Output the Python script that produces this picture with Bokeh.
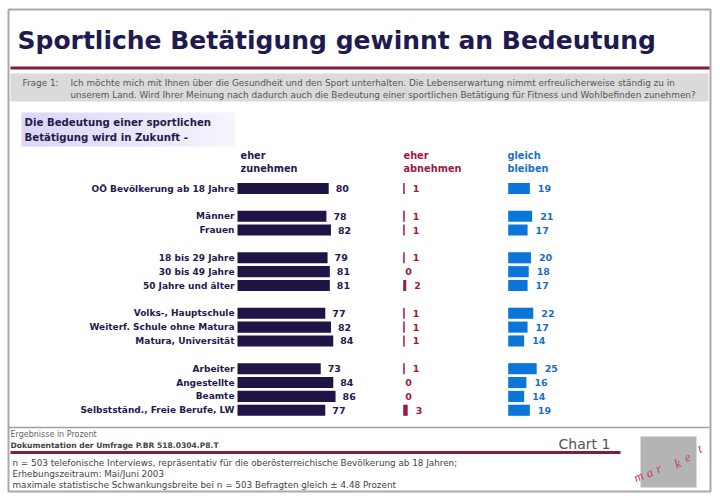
from bokeh.plotting import figure
from bokeh.models import Range1d, ColumnDataSource
from bokeh.core.properties import value
from bokeh.embed import file_html
from bokeh.resources import INLINE

# ---------------- data ----------------
categories = ["OÖ Bevölkerung ab 18 Jahre", "Männer", "Frauen",
              "18 bis 29 Jahre", "30 bis 49 Jahre", "50 Jahre und älter",
              "Volks-, Hauptschule", "Weiterf. Schule ohne Matura", "Matura, Universität",
              "Arbeiter", "Angestellte", "Beamte", "Selbstständ., Freie Berufe, LW"]
groups = [0, 1, 1, 2, 2, 2, 3, 3, 3, 4, 4, 4, 4]
zunehmen = [80, 78, 82, 79, 81, 81, 77, 82, 84, 73, 84, 86, 77]
abnehmen = [1, 1, 1, 1, 0, 2, 1, 1, 1, 1, 0, 0, 3]
gleich = [19, 21, 17, 20, 18, 17, 22, 17, 14, 25, 16, 14, 19]

title = "Sportliche Betätigung gewinnt an Bedeutung"
question_label = "Frage 1:"
question_lines = ["Ich möchte mich mit Ihnen über die Gesundheit und den Sport unterhalten.  Die Lebenserwartung nimmt erfreulicherweise ständig zu in",
                  "unserem Land. Wird Ihrer Meinung nach dadurch auch die Bedeutung einer sportlichen Betätigung für Fitness und Wohlbefinden zunehmen?"]
subtitle_lines = ["Die Bedeutung einer sportlichen", "Betätigung wird in Zukunft -"]
header_zun = ["eher", "zunehmen"]
header_abn = ["eher", "abnehmen"]
header_gle = ["gleich", "bleiben"]
footer_top = "Ergebnisse in Prozent"
footer_doc = "Dokumentation der Umfrage P.BR 518.0304.P8.T"
chart_label = "Chart 1"
footnotes = ["n = 503 telefonische Interviews, repräsentativ für die oberösterreichische Bevölkerung ab 18 Jahren;",
             "Erhebungszeitraum: Mai/Juni 2003",
             "maximale statistische Schwankungsbreite bei n = 503 Befragten gleich ± 4.48 Prozent"]
logo_letters = ["m", "a", "r", "k", "e", "t"]

# ---------------- style ----------------
NAVY = "#1f1a4f"
BAR_NAVY = "#201446"
MAROON = "#9e1a42"
LINE_MAROON = "#8a1a3c"
BLUE_BAR = "#0a76da"
BLUE_TXT = "#1a6fc4"
GRAY_TXT = "#555555"
FONT = value("DejaVu Sans")

W, H = 720, 498
p = figure(width=W, height=H, x_range=Range1d(0, W), y_range=Range1d(H, 0),
           output_backend="svg", toolbar_location=None, min_border=0,
           x_axis_location=None, y_axis_location=None)
p.grid.visible = False
p.outline_line_color = None
p.background_fill_color = "white"
p.border_fill_color = "white"

# scales: value units -> pixels
def rng(origin, scale, size):
    return Range1d(start=-origin / scale, end=(size - origin) / scale)

p.extra_x_ranges = {
    "zun": rng(237.0, 1.14, W),
    "abn": rng(402.7, 1.5, W),
    "gle": rng(507.7, 1.14, W),
}
row_px = 13.86
row0 = 188.0
p.extra_y_ranges = {"rows": Range1d(start=(H - row0) / row_px, end=-row0 / row_px)}

slots = [i + g for i, g in enumerate(groups)]
src = ColumnDataSource(dict(
    slot=slots, cat=categories,
    zun=zunehmen, abn=abnehmen, gle=gleich,
    zun_t=[str(v) for v in zunehmen],
    abn_t=[str(v) for v in abnehmen],
    gle_t=[str(v) for v in gleich],
    abn_off=[8 if v > 0 else 2 for v in abnehmen],
))

# ---------------- frame decoration ----------------
p.quad(left=8, right=710, top=9, bottom=491, fill_color=None, line_color="#a9a9a9", line_width=2)
p.segment(x0=8, x1=709, y0=427, y1=427, line_color="#a0a0a0", line_width=1.5)
# title
p.text(x=17, y=40, text=[title], text_font=FONT, text_font_style="bold",
       text_font_size="25px", text_color=NAVY, text_baseline="middle")
p.segment(x0=10, x1=709, y0=67.5, y1=67.5, line_color=LINE_MAROON, line_width=3)
# question box
p.quad(left=10, right=708, top=73, bottom=101, fill_color="#dadada", line_color=None)
p.text(x=22, y=82, text=[question_label], text_font=FONT, text_font_size="8.9px",
       text_color=GRAY_TXT, text_baseline="middle")
p.text(x=[70, 70], y=[82, 94], text=question_lines, text_font=FONT, text_font_size="8.9px",
       text_color=GRAY_TXT, text_baseline="middle")

# subtitle box with light gradient
n_strips = 24
x_left, x_right = 21, 234
sw = (x_right - x_left) / n_strips
cols = []
for k in range(n_strips):
    t = k / (n_strips - 1)
    r = int(220 + (246 - 220) * t); g = int(214 + (244 - 214) * t); b = int(247 + (253 - 247) * t)
    cols.append("#%02x%02x%02x" % (r, g, b))
p.quad(left=[x_left + k * sw for k in range(n_strips)], right=[x_left + (k + 1) * sw + 0.5 for k in range(n_strips)],
       top=112, bottom=146, fill_color=cols, line_color=None)
p.text(x=[24, 24], y=[122, 137], text=subtitle_lines, text_font=FONT, text_font_style="bold",
       text_font_size="10.2px", text_color=NAVY, text_baseline="middle")

# column headers
p.text(x=[240, 240], y=[155, 168], text=header_zun, text_font=FONT, text_font_style="bold",
       text_font_size="9.8px", text_color=NAVY, text_baseline="middle")
p.text(x=[403, 403], y=[155, 168], text=header_abn, text_font=FONT, text_font_style="bold",
       text_font_size="9.8px", text_color=MAROON, text_baseline="middle")
p.text(x=[507, 507], y=[155, 168], text=header_gle, text_font=FONT, text_font_style="bold",
       text_font_size="9.8px", text_color=BLUE_TXT, text_baseline="middle")

# ---------------- bars ----------------
p.hbar(y="slot", left=0, right="zun", height=0.8, source=src, x_range_name="zun",
       y_range_name="rows", fill_color=BAR_NAVY, line_color=None)
p.hbar(y="slot", left=0, right="abn", height=0.8, source=src, x_range_name="abn",
       y_range_name="rows", fill_color=MAROON, line_color=None)
p.hbar(y="slot", left=0, right="gle", height=0.8, source=src, x_range_name="gle",
       y_range_name="rows", fill_color=BLUE_BAR, line_color=None)

p.text(x=0, y="slot", text="cat", source=src, x_range_name="zun", y_range_name="rows",
       x_offset=-3, text_align="right", text_baseline="middle", text_font=FONT,
       text_font_style="bold", text_font_size="9px", text_color=NAVY)
p.text(x="zun", y="slot", text="zun_t", source=src, x_range_name="zun", y_range_name="rows",
       x_offset=7, text_baseline="middle", text_font=FONT, text_font_style="bold",
       text_font_size="9.5px", text_color=NAVY)
p.text(x="abn", y="slot", text="abn_t", source=src, x_range_name="abn", y_range_name="rows",
       x_offset="abn_off", text_baseline="middle", text_font=FONT, text_font_style="bold",
       text_font_size="9.5px", text_color=MAROON)
p.text(x="gle", y="slot", text="gle_t", source=src, x_range_name="gle", y_range_name="rows",
       x_offset=8, text_baseline="middle", text_font=FONT, text_font_style="bold",
       text_font_size="9.5px", text_color=BLUE_TXT)

# ---------------- footer ----------------
p.text(x=10, y=434, text=[footer_top], text_font=FONT, text_font_size="8px",
       text_color="#666666", text_baseline="middle")
p.text(x=10, y=445, text=[footer_doc], text_font=FONT, text_font_style="bold",
       text_font_size="7.6px", text_color="#444444", text_baseline="middle")
p.segment(x0=10, x1=620, y0=452, y1=452, line_color=LINE_MAROON, line_width=3)
p.text(x=558, y=443, text=[chart_label], text_font=FONT, text_font_size="14px",
       text_color=GRAY_TXT, text_baseline="middle")
p.text(x=[12, 12, 12], y=[462, 473, 484], text=footnotes, text_font=FONT, text_font_size="8.8px",
       text_color="#444444", text_baseline="middle")

# logo
p.quad(left=640, right=696, top=436, bottom=487, fill_color="#b4b4b4", line_color=None)
p.text(x=[638, 649, 658, 677, 687, 699], y=[476, 472, 468, 463, 457, 448], text=logo_letters,
       text_font=value("Liberation Serif"), text_font_style="italic", text_font_size="13px",
       text_color="#c8386a", text_align="center", text_baseline="middle", angle=0.42)

open("out.html", "w").write(file_html(p, INLINE))
